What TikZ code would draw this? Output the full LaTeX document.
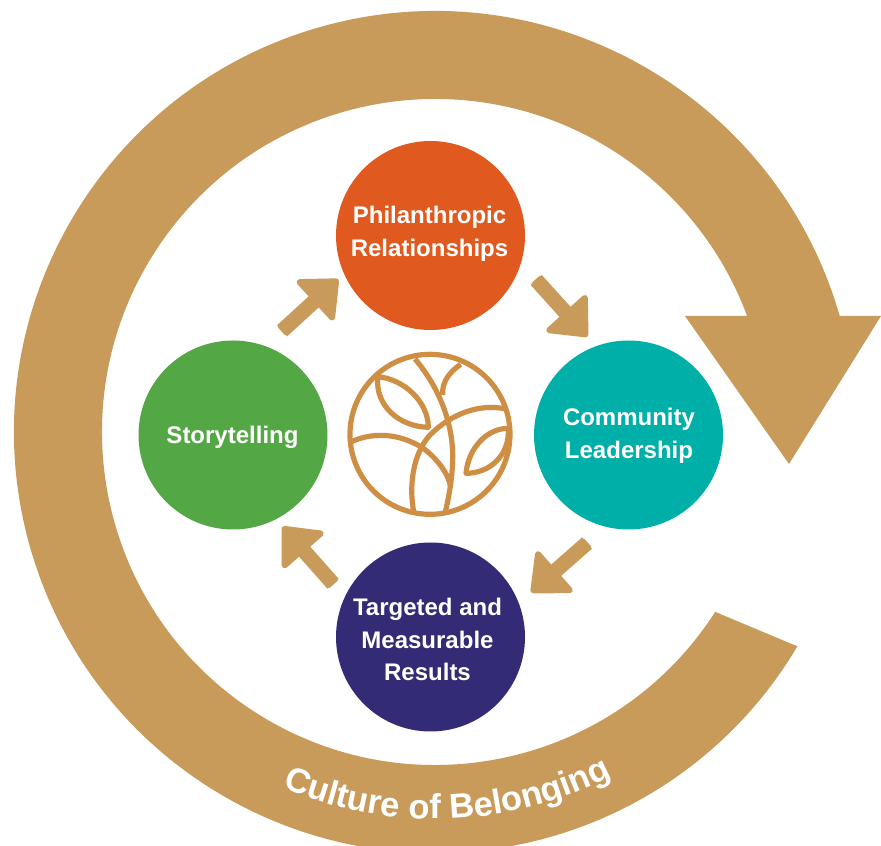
\documentclass[tikz,border=0pt]{standalone}
\usepackage{fontspec}
\setmainfont{Liberation Sans}
\usetikzlibrary{arrows.meta,decorations.text}
\definecolor{ringgold}{HTML}{C99B5A}
\definecolor{logogold}{HTML}{CE8F45}
\definecolor{cOrange}{HTML}{E0591E}
\definecolor{cTeal}{HTML}{00AFA8}
\definecolor{cNavy}{HTML}{332B75}
\definecolor{cGreen}{HTML}{54A745}
\tikzset{
  x=1pt,y=1pt,
  stage/.style={circle,minimum size=189pt,inner sep=0pt,outer sep=0pt},
  stagetext/.style={text=white,align=center,inner sep=0pt,
    font=\fontsize{24}{32.7}\selectfont\bfseries},
  blockarrow/.style={draw=ringgold,line width=15pt,
    {Rectangle[length=1pt,width=11pt,line width=4pt,round]}-{Triangle[length=35pt,width=60pt,line width=6pt,round]}},
  logoline/.style={draw=logogold,line width=5.2pt,line join=round},
}
\begin{document}
\begin{tikzpicture}
\clip (0,0) rectangle (881,846);
\fill[white] (0,0) rectangle (881,846);
% outer ring with arrow head
\fill[ringgold] (435,414) ++(-32.7:333)
  arc[start angle=-32.7,end angle=-339.6,radius=333pt]
  -- (685,530) -- (789,382) -- (881,530) -- (839.7,530)
  arc[start angle=-344,end angle=-30.6,radius=421pt]
  -- cycle;
% text on ring
\path[decorate,decoration={text along path,text align=center,
   text={|\fontsize{34.5}{34.5}\selectfont\bfseries\color{white}|Culture of Belonging}}]
  (435,414) ++(-120:387) arc[start angle=-120,end angle=-56,radius=387pt];
% stages
\node[stage,fill=cOrange] (phil) at (430.5,610.5) {};
\node[stage,fill=cTeal]   (comm) at (628.5,411) {};
\node[stage,fill=cNavy]   (targ) at (430.5,209) {};
\node[stage,fill=cGreen]  (story) at (233,411) {};
\node[stagetext] (philT) at (429.5,612) {Philanthropic\\Relationships};
\node[stagetext] (commT) at (629,410) {Community\\Leadership};
\node[stagetext] (targT) at (427.5,206.5) {Targeted and\\Measurable\\Results};
\node[stagetext] (storyT) at (232.5,409) {Storytelling};
% connectors
\draw[blockarrow,shorten <=22pt,shorten >=8pt] (story.70.6) -- (phil.204.8);
\draw[blockarrow,shorten <=22pt,shorten >=13pt] (phil.343.8) -- (comm.110.5);
\draw[blockarrow,shorten <=24pt,shorten >=16.5pt] (comm.256) -- (targ.21);
\draw[blockarrow,shorten <=17pt,shorten >=10pt] (targ.155) -- (story.297.8);
% logo
\begin{scope}[shift={(340,501)},x=0.3333pt,y=-0.3333pt]
\draw[logoline] (270,268) circle[radius=80pt];
\draw[logoline] (225,42) .. controls (300,130) and (340,240) .. (338,340) .. controls (337,400) and (328,450) .. (315,505);
\draw[logoline] (362,58) .. controls (330,80) and (305,110) .. (308,150);
\draw[logoline] (110,95) .. controls (190,100) and (265,170) .. (265,247) .. controls (180,245) and (105,185) .. (113,95);
\draw[logoline] (497,192) .. controls (420,175) and (335,205) .. (270,270) .. controls (220,325) and (205,420) .. (222,505);
\draw[logoline] (35,290) .. controls (100,260) and (180,265) .. (250,310) .. controls (290,340) and (325,385) .. (332,425);
\draw[logoline] (505,250) .. controls (440,250) and (385,310) .. (378,385) .. controls (450,385) and (510,330) .. (505,250);
\end{scope}
\end{tikzpicture}
\end{document}
